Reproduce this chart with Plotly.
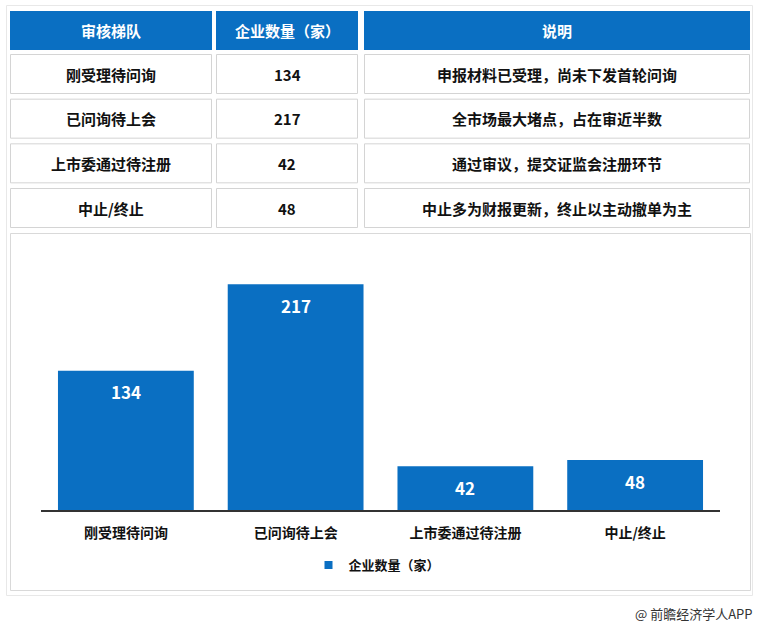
import plotly.graph_objects as go

# ---------------- data ----------------
headers = ["审核梯队", "企业数量（家）", "说明"]
categories = ["刚受理待问询", "已问询待上会", "上市委通过待注册", "中止/终止"]
counts = [134, 217, 42, 48]
notes = [
    "申报材料已受理，尚未下发首轮问询",
    "全市场最大堵点，占在审近半数",
    "通过审议，提交证监会注册环节",
    "中止多为财报更新，终止以主动撤单为主",
]
series_name = "企业数量（家）"
footer = "@ 前瞻经济学人APP"

# ---------------- style ----------------
W, H = 760, 625
FONT = "Noto Sans CJK SC"
BLUE = "#0a6fc2"
TEXT = "#111111"
CELL_LINE = "#d4d4d4"


def px(x):
    return x / W


def py(y):
    return 1 - y / H


fig = go.Figure()

fig.add_trace(go.Bar(
    x=categories, y=counts, marker_color=BLUE, marker_line_width=0,
    showlegend=False, name=series_name, hoverinfo="x+y",
))
# legend entry (small square)
fig.add_trace(go.Scatter(
    x=[None], y=[None], mode="markers", name=series_name,
    marker=dict(symbol="square", size=8, color=BLUE),
))

annotations = []
# value labels inside bars
for c, v in zip(categories, counts):
    annotations.append(dict(
        x=c, y=v, xref="x", yref="y", text=str(v), showarrow=False,
        yanchor="middle", yshift=-21,
        font=dict(family=FONT, size=17, color="white", weight=700),
    ))

shapes = []
# outer frame and chart panel
shapes.append(dict(type="rect", xref="paper", yref="paper",
                   x0=px(6.5), x1=px(752.5), y0=py(595.5), y1=py(5.5),
                   line=dict(color="#e8e8e8", width=1), layer="below"))
shapes.append(dict(type="rect", xref="paper", yref="paper",
                   x0=px(10.5), x1=px(750.5), y0=py(590.5), y1=py(233.5),
                   line=dict(color="#d9d9d9", width=1), layer="below"))

# table geometry
col_edges = [(10, 212), (216, 358), (364, 750)]
head_top, head_bot = 11, 50
row_top0, row_h, row_pitch = 54, 40, 44.67

for (x0, x1), h in zip(col_edges, headers):
    shapes.append(dict(type="rect", xref="paper", yref="paper",
                       x0=px(x0), x1=px(x1), y0=py(head_bot), y1=py(head_top),
                       fillcolor=BLUE, line=dict(width=0), layer="below"))
    annotations.append(dict(
        x=px((x0 + x1) / 2), y=py((head_top + head_bot) / 2), xref="paper", yref="paper",
        text=h, showarrow=False, xanchor="center", yanchor="middle",
        font=dict(family=FONT, size=15, color="white", weight=700),
    ))

rows = list(zip(categories, [str(v) for v in counts], notes))
for i, row in enumerate(rows):
    t = row_top0 + i * row_pitch
    b = t + row_h
    for (x0, x1), txt in zip(col_edges, row):
        shapes.append(dict(type="rect", xref="paper", yref="paper",
                           x0=px(x0 + 0.5), x1=px(x1 - 0.5), y0=py(b - 0.5), y1=py(t + 0.5),
                           fillcolor="white", line=dict(color=CELL_LINE, width=1), layer="below"))
        annotations.append(dict(
            x=px((x0 + x1) / 2), y=py((t + b) / 2), xref="paper", yref="paper",
            text=txt, showarrow=False, xanchor="center", yanchor="middle",
            font=dict(family=FONT, size=15, color=TEXT, weight=700),
        ))

# footer
annotations.append(dict(
    x=px(755), y=py(613), xref="paper", yref="paper", text=footer, showarrow=False,
    xanchor="right", yanchor="middle",
    font=dict(family=FONT, size=13, color="#333333"),
))

fig.update_layout(
    width=W, height=H,
    margin=dict(l=0, r=0, t=0, b=0),
    paper_bgcolor="white", plot_bgcolor="rgba(0,0,0,0)",
    bargap=0.2,
    font=dict(family=FONT),
    xaxis=dict(
        domain=[px(41), px(720)], range=[-0.5, 3.5],
        showline=True, linecolor="#333333", linewidth=2,
        showgrid=False, zeroline=False, ticks="",
        ticklabelstandoff=9,
        tickfont=dict(family=FONT, size=14, color=TEXT, weight=700),
        fixedrange=True,
    ),
    yaxis=dict(
        domain=[py(510), py(250)], range=[0, 250], visible=False,
        showgrid=False, zeroline=False, fixedrange=True,
    ),
    legend=dict(
        orientation="h", x=px(377), xanchor="center", y=py(565), yanchor="middle",
        font=dict(family=FONT, size=13, color=TEXT, weight=700),
        bgcolor="rgba(0,0,0,0)", itemwidth=30,
    ),
    shapes=shapes,
    annotations=annotations,
)

fig.write_html(
    "out.html",
    config={"displayModeBar": False},
    post_script="document.body.style.margin='0px';document.body.style.overflow='hidden';",
)
